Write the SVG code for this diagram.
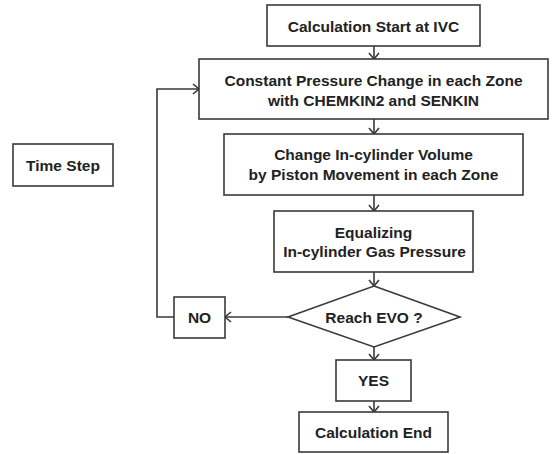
<svg xmlns="http://www.w3.org/2000/svg" width="553" height="454" viewBox="0 0 553 454">
<style>
.box{fill:#fff;stroke:#3a3a3a;stroke-width:1.6}
.t{font-family:"Liberation Sans",Arial,sans-serif;font-weight:bold;font-size:15.5px;fill:#222;text-anchor:middle}
.c{fill:none;stroke:#3a3a3a;stroke-width:1.6}
</style>
<defs>
<marker id="ah" markerUnits="userSpaceOnUse" viewBox="0 0 12 12" refX="11" refY="6" markerWidth="12" markerHeight="12" orient="auto">
<path d="M5,1 L11,6 L5,11" fill="none" stroke="#3a3a3a" stroke-width="1.6"/>
</marker>
</defs>
<rect width="553" height="454" fill="#fff"/>
<g id="connectors">
<line class="c" x1="374" y1="46" x2="374" y2="59" marker-end="url(#ah)"/>
<line class="c" x1="374" y1="119" x2="374" y2="134" marker-end="url(#ah)"/>
<line class="c" x1="374" y1="195" x2="374" y2="211" marker-end="url(#ah)"/>
<line class="c" x1="374" y1="272" x2="374" y2="286" marker-end="url(#ah)"/>
<line class="c" x1="374" y1="347" x2="374" y2="360" marker-end="url(#ah)"/>
<line class="c" x1="374" y1="401" x2="374" y2="412" marker-end="url(#ah)"/>
<line class="c" x1="288" y1="317" x2="225" y2="317" marker-end="url(#ah)"/>
<polyline class="c" points="174,317 157,317 157,89 199,89" marker-end="url(#ah)"/>
</g>
<g id="start">
<rect class="box" x="267" y="5" width="213" height="41"/>
<text class="t" x="373.5" y="31.5">Calculation Start at IVC</text>
</g>
<g id="constant-pressure">
<rect class="box" x="199" y="59" width="349" height="60"/>
<text class="t" x="373.5" y="86">Constant Pressure Change in each Zone</text>
<text class="t" x="373.5" y="106">with CHEMKIN2 and SENKIN</text>
</g>
<g id="volume">
<rect class="box" x="224" y="134" width="299" height="61"/>
<text class="t" x="373.5" y="160">Change In-cylinder Volume</text>
<text class="t" x="373.5" y="179.5">by Piston Movement in each Zone</text>
</g>
<g id="equalizing">
<rect class="box" x="274" y="211" width="199" height="61"/>
<text class="t" x="373.5" y="237.5">Equalizing</text>
<text class="t" x="374.5" y="256.5">In-cylinder Gas Pressure</text>
</g>
<g id="decision">
<polygon class="box" points="374,286 460,317 374,347 288,317"/>
<text class="t" x="374" y="322.5">Reach EVO ?</text>
</g>
<g id="no">
<rect class="box" x="174" y="297" width="51" height="41"/>
<text class="t" x="199.5" y="323">NO</text>
</g>
<g id="yes">
<rect class="box" x="336" y="360" width="75" height="41"/>
<text class="t" x="373.5" y="386">YES</text>
</g>
<g id="end">
<rect class="box" x="299" y="412" width="149" height="40"/>
<text class="t" x="373.5" y="437.5">Calculation End</text>
</g>
<g id="time-step">
<rect class="box" x="13" y="144" width="100" height="42"/>
<text class="t" x="63" y="170.5">Time Step</text>
</g>
</svg>
